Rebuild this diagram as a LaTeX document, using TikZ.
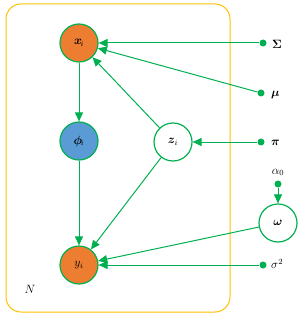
\documentclass[tikz,border=0pt]{standalone}
\usepackage{amsmath,bm}
\usetikzlibrary{arrows.meta}
\definecolor{gline}{RGB}{0,176,80}
\definecolor{orng}{RGB}{237,125,49}
\definecolor{blu}{RGB}{91,155,213}
\definecolor{plate}{RGB}{255,192,0}
\tikzset{
  var/.style={circle,draw=gline,line width=1.2pt,minimum size=38pt,inner sep=0pt,font=\large},
  obs/.style={var,fill=orng},
  lat/.style={var,fill=blu},
  hid/.style={var,fill=white},
  dot/.style={circle,fill=gline,minimum size=7pt,inner sep=0pt},
  edge/.style={draw=gline,line width=1pt,-{Triangle[length=9pt,width=8pt]}},
  lab/.style={inner sep=0pt,anchor=west,font=\large}
}
\begin{document}
\begin{tikzpicture}[x=1pt,y=-1pt]
\useasboundingbox (0,0) rectangle (307,323);
\draw[plate,line width=1pt,rounded corners=15pt] (6,4) rectangle (230,312);
\node[obs] (x) at (79,43) {$\bm{x}_{\!i}$};
\node[lat] (phi) at (79,141) {$\bm{\phi}_{\!i}$};
\node[obs] (y) at (79,265) {$y_i$};
\node[hid] (z) at (173,142) {$\bm{z}_i$};
\node[hid] (w) at (278,223) {$\bm{\omega}$};
\node[dot] (sig) at (263,43) {};
\node[dot] (mu) at (261,93) {};
\node[dot] (pi) at (261,142) {};
\node[dot] (a0) at (278,184) {};
\node[dot] (s2) at (263,265) {};
\node[lab] (lsig) at (272,44) {$\bm{\Sigma}$};
\node[lab] (lmu) at (271,95) {$\bm{\mu}$};
\node[lab] (lpi) at (271,143) {$\bm{\pi}$};
\node[anchor=south,inner sep=0pt,font=\large] (la0) at (278,176) {$\alpha_0$};
\node[lab] (ls2) at (271,264) {$\sigma^2$};
\node[font=\large] (N) at (30,289) {$N$};
\draw[edge] (sig) -- (x);
\draw[edge] (mu) -- (x);
\draw[edge] (z) -- (x);
\draw[edge] (x) -- (phi);
\draw[edge] (phi) -- (y);
\draw[edge] (z) -- (y);
\draw[edge] (pi) -- (z);
\draw[edge] (a0) -- (w);
\draw[edge] (w) -- (y);
\draw[edge] (s2) -- (y);
\end{tikzpicture}
\end{document}
